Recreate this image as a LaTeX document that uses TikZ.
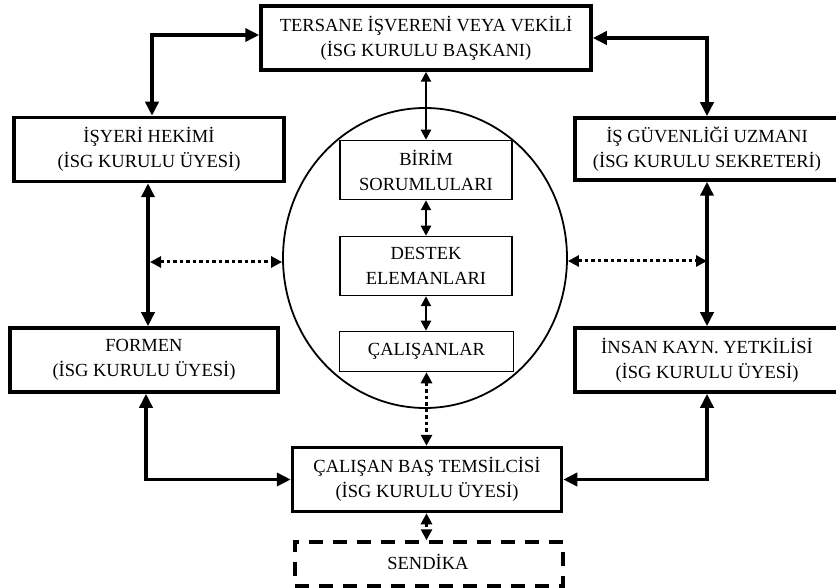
\documentclass[tikz,border=0pt]{standalone}
\usepackage{fontspec}
\setmainfont{Liberation Serif}
\usetikzlibrary{arrows.meta,shapes.geometric}
\tikzstyle{kalin} = [rectangle, draw=black, line width=3.5pt, minimum height=64pt, text centered, align=center, font=\fontsize{18.5}{25}\selectfont]
\tikzstyle{ince} = [rectangle, draw=black, line width=1.5pt, minimum width=172pt, minimum height=59pt, text centered, align=center, font=\fontsize{18.5}{25}\selectfont]
\tikzstyle{ok} = [line width=3.5pt, {Triangle[length=14pt,width=13pt]}-{Triangle[length=14pt,width=13pt]}]
\tikzstyle{inceok} = [line width=2.2pt, {Triangle[length=10pt,width=10pt]}-{Triangle[length=10pt,width=10pt]}]
\tikzstyle{noktali} = [line width=3pt, dash pattern=on 3.5pt off 3pt, {Triangle[length=11pt,width=11pt]}-{Triangle[length=11pt,width=11pt]}]

\begin{document}
\begin{tikzpicture}[x=1pt,y=-1pt]
    \useasboundingbox (0,0) rectangle (836,588);

    \node [ellipse, draw=black, line width=1.8pt, minimum width=284pt, minimum height=300pt, inner sep=0pt] (elips) at (425,258) {};

    \node [kalin, minimum width=330pt] (baskan) at (426,38) {TERSANE İŞVERENİ VEYA VEKİLİ\\(İSG KURULU BAŞKANI)};
    \node [kalin, minimum width=270pt] (hekim) at (149,149.5) {İŞYERİ HEKİMİ\\(İSG KURULU ÜYESİ)};
    \node [kalin, minimum width=264pt, minimum height=62pt] (uzman) at (707,149) {İŞ GÜVENLİĞİ UZMANI\\(İSG KURULU SEKRETERİ)};
    \node [kalin, minimum width=268pt] (formen) at (144,360) {FORMEN\\(İSG KURULU ÜYESİ)};
    \node [kalin, minimum width=264pt] (insan) at (707,360) {İNSAN KAYN. YETKİLİSİ\\(İSG KURULU ÜYESİ)};
    \node [kalin, minimum width=269pt] (temsilci) at (427,479.5) {ÇALIŞAN BAŞ TEMSİLCİSİ\\(İSG KURULU ÜYESİ)};
    \node [kalin, dash pattern=on 14pt off 10pt, minimum width=268pt, minimum height=44pt] (sendika) at (429,564) {};
    \node [font=\fontsize{18.5}{25}\selectfont] (sendikayazi) at (428,562) {SENDİKA};

    \node [ince] (birim) at (426,170) {BİRİM\\SORUMLULARI};
    \node [ince] (destek) at (426,266) {DESTEK\\ELEMANLARI};
    \node [ince, minimum width=174pt, minimum height=40pt] (calisanlar) at (426.5,351.5) {ÇALIŞANLAR};

    \coordinate (sol) at (150,262);
    \coordinate (sag) at (707,261);

    \draw [ok] ([yshift=3pt]baskan.west) -| ([xshift=3pt]hekim.north);
    \draw [ok] (baskan.east) -| (uzman.north);
    \draw [ok] ([xshift=-1pt]hekim.south) -- ([xshift=-1pt]hekim.south |- formen.north);
    \draw [ok] (uzman.south) -- (insan.north);
    \draw [ok] ([xshift=2pt]formen.south) |- (temsilci.west);
    \draw [ok] (insan.south) |- (temsilci.east);

    \draw [inceok] (baskan.south -| birim.north) -- (birim.north);
    \draw [inceok] (birim.south) -- (destek.north);
    \draw [inceok] (destek.south) -- (destek.south |- calisanlar.north);

    \draw [noktali] (calisanlar.south) -- (calisanlar.south |- temsilci.north);
    \draw [noktali] (temsilci.south -| calisanlar.south) -- (sendika.north -| calisanlar.south);
    \draw [noktali] (sol) -- (sol -| elips.west);
    \draw [noktali] (sag -| elips.east) -- (sag);
\end{tikzpicture}
\end{document}
